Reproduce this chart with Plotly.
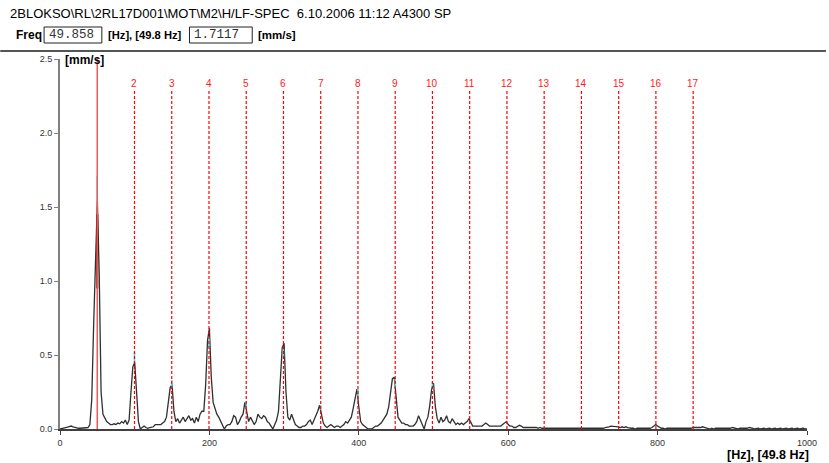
import numpy as np
import plotly.graph_objects as go

# ---------------- data ----------------
freq_step = 2.5  # Hz per spectral line
amplitude = [
    0.0, 0.005, 0.005, 0.01, 0.012, 0.015, 0.02, 0.015, 0.01, 0.005,
    0.005, 0.005, 0.005, 0.005, 0.008, 0.01, 0.03, 0.2, 0.7, 1.2,
    1.54, 1.05, 0.25, 0.1, 0.07, 0.05, 0.04, 0.03, 0.03, 0.035,
    0.03, 0.04, 0.035, 0.05, 0.04, 0.06, 0.03, 0.06, 0.25, 0.42,
    0.45, 0.22, 0.05, 0.0, 0.01, 0.02, 0.01, 0.005, 0.01, 0.01,
    0.015, 0.03, 0.03, 0.025, 0.03, 0.04, 0.05, 0.08, 0.2, 0.28,
    0.30, 0.12, 0.05, 0.07, 0.04, 0.06, 0.08, 0.05, 0.07, 0.09,
    0.06, 0.07, 0.04, 0.08, 0.05, 0.1, 0.12, 0.12, 0.3, 0.6,
    0.68, 0.35, 0.18, 0.13, 0.1, 0.08, 0.05, 0.02, 0.0, 0.02,
    0.03, 0.03, 0.05, 0.09, 0.08, 0.03, 0.05, 0.08, 0.1, 0.18,
    0.12, 0.05, 0.08, 0.05, 0.03, 0.05, 0.1, 0.08, 0.07, 0.09,
    0.08, 0.05, 0.04, 0.02, 0.0, 0.03, 0.06, 0.12, 0.35, 0.55,
    0.58, 0.25, 0.08, 0.06, 0.1, 0.06, 0.03, 0.02, 0.01, 0.01,
    0.02, 0.02, 0.03, 0.05, 0.06, 0.03, 0.06, 0.08, 0.12, 0.16,
    0.1, 0.04, 0.02, 0.01, 0.02, 0.03, 0.02, 0.01, 0.02, 0.02,
    0.01, 0.02, 0.03, 0.05, 0.04, 0.06, 0.08, 0.14, 0.22, 0.27,
    0.15, 0.05, 0.03, 0.02, 0.01, 0.0, 0.0, 0.0, 0.01, 0.02,
    0.02, 0.03, 0.04, 0.06, 0.08, 0.1, 0.15, 0.25, 0.34, 0.35,
    0.2, 0.08, 0.06, 0.04, 0.04, 0.03, 0.03, 0.02, 0.02, 0.02,
    0.03, 0.05, 0.09, 0.06, 0.02, 0.0, 0.05, 0.08, 0.16, 0.27,
    0.31, 0.15, 0.07, 0.04, 0.08, 0.05, 0.06, 0.09, 0.05, 0.04,
    0.07, 0.05, 0.03, 0.04, 0.03, 0.04, 0.03, 0.04, 0.05, 0.07,
    0.04, 0.02, 0.02, 0.02, 0.02, 0.02, 0.02, 0.03, 0.04, 0.03,
    0.02, 0.02, 0.02, 0.02, 0.02, 0.02, 0.02, 0.03, 0.04, 0.05,
    0.03, 0.02, 0.02, 0.01, 0.01, 0.02, 0.025, 0.02, 0.01, 0.01,
    0.01, 0.015, 0.01, 0.01, 0.01, 0.01, 0.005, 0.01, 0.005, 0.005,
    0.005, 0.005, 0.0, 0.005, 0.005, 0.0, 0.005, 0.005, 0.0, 0.005,
    0.005, 0.005, 0.0, 0.005, 0.005, 0.0, 0.005, 0.005, 0.005, 0.005,
    0.005, 0.0, 0.005, 0.005, 0.005, 0.0, 0.005, 0.005, 0.005, 0.005,
    0.005, 0.005, 0.01, 0.01, 0.015, 0.02, 0.02, 0.015, 0.02, 0.015,
    0.01, 0.015, 0.01, 0.015, 0.01, 0.005, 0.005, 0.005, 0.0, 0.005,
    0.005, 0.005, 0.0, 0.005, 0.005, 0.005, 0.005, 0.01, 0.02, 0.03,
    0.02, 0.01, 0.005, 0.005, 0.0, 0.005, 0.005, 0.005, 0.0, 0.005,
    0.005, 0.005, 0.0, 0.005, 0.005, 0.005, 0.0, 0.005, 0.005, 0.01,
    0.01, 0.005, 0.005, 0.01, 0.015, 0.01, 0.005, 0.005, 0.0, 0.005,
    0.0, 0.005, 0.005, 0.0, 0.005, 0.005, 0.0, 0.005, 0.005, 0.005,
    0.01, 0.005, 0.005, 0.0, 0.005, 0.005, 0.0, 0.005, 0.005, 0.01,
    0.01, 0.005, 0.0, 0.005, 0.005, 0.0, 0.005, 0.005, 0.0, 0.005,
    0.005, 0.0, 0.005, 0.005, 0.0, 0.005, 0.005, 0.0, 0.005, 0.005,
    0.0, 0.005, 0.005, 0.0, 0.005, 0.005, 0.0, 0.005, 0.005, 0.0,
    0.0,
]
frequency = np.arange(len(amplitude)) * freq_step

harmonic_freqs = [49.858, 99.716, 149.574, 199.432, 249.29, 299.148, 349.006,
                  398.864, 448.722, 498.58, 548.438, 598.296, 648.154, 698.012,
                  747.87, 797.728, 847.586]
harmonic_labels = [str(k) for k in range(1, 18)]

# cyan cursor tips at the first ten harmonics (low, high)
tip_low = [1.54, 0.45, 0.28, 0.55, 0.14, 0.48, 0.13, 0.22, 0.28, 0.27]
tip_high = [1.7117, 0.52, 0.33, 0.62, 0.19, 0.54, 0.16, 0.27, 0.34, 0.32]

x_ticks = [0, 200, 400, 600, 800, 1000]
y_ticks = [0.0, 0.5, 1.0, 1.5, 2.0, 2.5]
y_ticktext = ["0.0", "0.5", "1.0", "1.5", "2.0", "2.5"]

title_text = "2BLOKSO\\RL\\2RL17D001\\MOT\\M2\\H/LF-SPEC  6.10.2006 11:12 A4300 SP"
cursor_freq = "49.858"
cursor_amp = "1.7117"

# ---------------- layout helpers ----------------
W, H = 829, 463
L, R, T, B = 60, 810, 59, 429


def px_x(px):
    return (px - L) / (R - L)


def px_y(py):
    return (B - py) / (B - T)


FONT = "Liberation Sans, Arial, sans-serif"

fig = go.Figure()

# spectrum
fig.add_trace(go.Scatter(x=frequency, y=amplitude, mode="lines",
                         line=dict(color="#303030", width=1.3),
                         hoverinfo="skip"))

# dark segment at the fundamental
fig.add_trace(go.Scatter(x=[harmonic_freqs[0], harmonic_freqs[0]], y=[0.95, 1.45],
                         mode="lines", line=dict(color="#5a0000", width=2),
                         hoverinfo="skip"))

# cyan tips
tx, ty = [], []
for h, lo, hi in zip(harmonic_freqs[:len(tip_low)], tip_low, tip_high):
    tx += [h, h, None]
    ty += [lo, hi, None]
fig.add_trace(go.Scatter(x=tx, y=ty, mode="lines",
                         line=dict(color="#33e6f0", width=1.6), hoverinfo="skip"))

# cursor triangle
fig.add_trace(go.Scatter(x=[harmonic_freqs[0]], y=[2.527], mode="markers",
                         marker=dict(symbol="triangle-down-open", size=9,
                                     color="#ff2020", line=dict(width=1.2)),
                         cliponaxis=False, hoverinfo="skip"))

shapes = []
annotations = []

# fundamental (solid) line
shapes.append(dict(type="line", xref="x", yref="paper",
                   x0=harmonic_freqs[0], x1=harmonic_freqs[0],
                   y0=0, y1=px_y(57),
                   line=dict(color="#f05858", width=1.5)))

# harmonics (dashed)
for h, lab in zip(harmonic_freqs[1:], harmonic_labels[1:]):
    shapes.append(dict(type="line", xref="x", yref="paper",
                       x0=h, x1=h, y0=0, y1=px_y(90),
                       line=dict(color="#ff0000", width=1.2, dash="3px,2px")))
    annotations.append(dict(x=h, y=px_y(83), xref="x", yref="paper",
                            text=lab, showarrow=False,
                            font=dict(family=FONT, size=10, color="#ff1a1a"),
                            xanchor="center", yanchor="middle"))

# separator line under header
shapes.append(dict(type="line", xref="paper", yref="paper",
                   x0=px_x(0), x1=px_x(W), y0=px_y(51), y1=px_y(51),
                   line=dict(color="#555555", width=2)))

# value boxes
for x0, x1 in [(44, 102), (190, 253)]:
    shapes.append(dict(type="rect", xref="paper", yref="paper",
                       x0=px_x(x0), x1=px_x(x1), y0=px_y(43), y1=px_y(27),
                       line=dict(color="#222222", width=1), fillcolor="white"))

# header texts
annotations.append(dict(x=px_x(8), y=px_y(14), xref="paper", yref="paper",
                        text=title_text, showarrow=False,
                        font=dict(family=FONT, size=13, color="black"),
                        xanchor="left", yanchor="middle"))
annotations.append(dict(x=px_x(14), y=px_y(35), xref="paper", yref="paper",
                        text="<b>Freq</b>", showarrow=False,
                        font=dict(family=FONT, size=12, color="black"),
                        xanchor="left", yanchor="middle"))
annotations.append(dict(x=px_x(47), y=px_y(35), xref="paper", yref="paper",
                        text=cursor_freq, showarrow=False,
                        font=dict(family="Liberation Mono, monospace", size=12.5, color="#333333"),
                        xanchor="left", yanchor="middle"))
annotations.append(dict(x=px_x(106), y=px_y(35), xref="paper", yref="paper",
                        text="<b>[Hz], [49.8 Hz]</b>", showarrow=False,
                        font=dict(family=FONT, size=11.2, color="black"),
                        xanchor="left", yanchor="middle"))
annotations.append(dict(x=px_x(193), y=px_y(35), xref="paper", yref="paper",
                        text=cursor_amp, showarrow=False,
                        font=dict(family="Liberation Mono, monospace", size=12.5, color="#333333"),
                        xanchor="left", yanchor="middle"))
annotations.append(dict(x=px_x(257), y=px_y(35), xref="paper", yref="paper",
                        text="<b>[mm/s]</b>", showarrow=False,
                        font=dict(family=FONT, size=11.5, color="black"),
                        xanchor="left", yanchor="middle"))

# axis unit labels
annotations.append(dict(x=px_x(63), y=px_y(60), xref="paper", yref="paper",
                        text="<b>[mm/s]</b>", showarrow=False,
                        font=dict(family=FONT, size=12, color="black"),
                        xanchor="left", yanchor="middle"))
annotations.append(dict(x=px_x(814), y=px_y(455), xref="paper", yref="paper",
                        text="<b>[Hz], [49.8 Hz]</b>", showarrow=False,
                        font=dict(family=FONT, size=12.5, color="black"),
                        xanchor="right", yanchor="middle"))

fig.update_layout(
    width=W, height=H,
    margin=dict(l=L, r=W - R, t=T, b=H - B, pad=0),
    paper_bgcolor="white", plot_bgcolor="white",
    showlegend=False,
    shapes=shapes, annotations=annotations,
    font=dict(family=FONT, size=10, color="#333333"),
    xaxis=dict(range=[0, 1000], tickvals=x_ticks, showgrid=False, zeroline=False,
               showline=True, linecolor="#404040", linewidth=2,
               ticks="outside", ticklen=4, tickcolor="#404040",
               tickfont=dict(family=FONT, size=9, color="#333333")),
    yaxis=dict(range=[0, 2.5], tickvals=y_ticks, ticktext=y_ticktext,
               showgrid=False, zeroline=False,
               showline=True, linecolor="#808080", linewidth=2,
               ticks="outside", ticklen=4, tickcolor="#808080",
               tickfont=dict(family=FONT, size=9, color="#333333")),
)

fig.write_html("out.html")
